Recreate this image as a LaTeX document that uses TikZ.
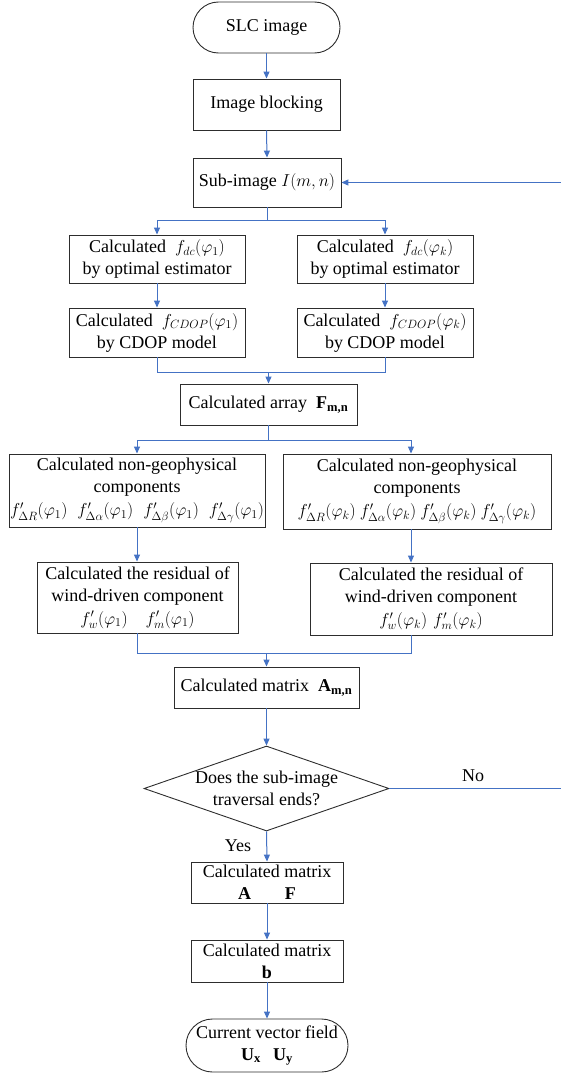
\documentclass[tikz,border=0pt]{standalone}
\usepackage{fontspec}
\setmainfont{Liberation Serif}
\usetikzlibrary{arrows.meta,shapes.geometric}
\definecolor{lineblue}{RGB}{68,114,196}
\definecolor{boxgray}{RGB}{45,45,45}
\newcommand{\bsub}[2]{\textbf{#1}\textsubscript{\textbf{#2}}}
\begin{document}
\begin{tikzpicture}[x=1pt,y=-1pt,
  every node/.style={font=\fontsize{18}{22}\selectfont},
  box/.style={draw=boxgray, line width=0.9pt, inner sep=0pt, align=center},
  term/.style={box, rounded corners=25.5pt},
  dia/.style={draw=boxgray, line width=0.9pt, diamond, inner sep=0pt},
  flow/.style={draw=lineblue, line width=1pt, -{Triangle[width=6pt,length=7pt]}},
  link/.style={draw=lineblue, line width=1pt}]
\useasboundingbox (0,0) rectangle (561,1076);

% nodes
\node[term, minimum width=147pt, minimum height=51pt] (slc) at (266.5,27.5) {SLC image};
\node[box, minimum width=147pt, minimum height=51pt] (blk) at (266.5,104.5) {Image blocking};
\node[box, minimum width=148pt, minimum height=49pt] (sub) at (267,182.5) {Sub-image $I\bigl(m,n\bigr)$};

\node[box, minimum width=176pt, minimum height=48pt] (dc1) at (157,259) {Calculated \ $f_{dc}\bigl(\varphi_1\bigr)$\\by optimal estimator};
\node[box, minimum width=176pt, minimum height=48pt] (dc2) at (385,259) {Calculated \ $f_{dc}\bigl(\varphi_k\bigr)$\\by optimal estimator};
\node[box, minimum width=176pt, minimum height=49pt] (cd1) at (157,332.5) {Calculated \ $f_{CDOP}\bigl(\varphi_1\bigr)$\\by CDOP model};
\node[box, minimum width=176pt, minimum height=49pt] (cd2) at (385,332.5) {Calculated \ $f_{CDOP}\bigl(\varphi_k\bigr)$\\by CDOP model};

\node[box, minimum width=177pt, minimum height=41pt] (fmn) at (268.5,404.5) {Calculated array \ \bsub{F}{m,n}};

\node[box, minimum width=256pt, minimum height=73pt] (ng1) at (137,490.5) {Calculated non-geophysical\\components\\[1pt]
  $f'_{\Delta R}\bigl(\varphi_1\bigr)$\hspace{10pt}$f'_{\Delta\alpha}\bigl(\varphi_1\bigr)$\hspace{10pt}$f'_{\Delta\beta}\bigl(\varphi_1\bigr)$\hspace{10pt}$f'_{\Delta\gamma}\bigl(\varphi_1\bigr)$};
\node[box, minimum width=268pt, minimum height=75pt] (ng2) at (417,491.5) {Calculated non-geophysical\\components\\[1pt]
  $f'_{\Delta R}\bigl(\varphi_k\bigr)$\hspace{4pt}$f'_{\Delta\alpha}\bigl(\varphi_k\bigr)$\hspace{4pt}$f'_{\Delta\beta}\bigl(\varphi_k\bigr)$\hspace{4pt}$f'_{\Delta\gamma}\bigl(\varphi_k\bigr)$};

\node[box, minimum width=201pt, minimum height=71pt] (rs1) at (137.5,597.5) {Calculated the residual of\\wind-driven component\\[1pt]
  $f'_{w}\bigl(\varphi_1\bigr)$\hspace{18pt}$f'_{m}\bigl(\varphi_1\bigr)$};
\node[box, minimum width=242pt, minimum height=72pt] (rs2) at (431,599) {Calculated the residual of\\wind-driven component\\[1pt]
  $f'_{w}\bigl(\varphi_k\bigr)$\hspace{6pt}$f'_{m}\bigl(\varphi_k\bigr)$};

\node[box, minimum width=185pt, minimum height=41pt] (amn) at (266.5,687.5) {Calculated matrix \ \bsub{A}{m,n}};

\node[dia, minimum width=245pt, minimum height=85pt] (dec) at (266.5,788.5) {};
\node[align=center, inner sep=0pt] (dect) at (dec.center) {Does the sub-image\\traversal ends?};

\node[box, minimum width=152pt, minimum height=41pt] (af) at (267,882.5) {Calculated matrix\\\textbf{A}\hspace{34pt}\textbf{F}};
\node[box, minimum width=152pt, minimum height=42pt] (bb) at (267,961) {Calculated matrix\\\textbf{b}};
\node[box, rounded corners=26.5pt, minimum width=162pt, minimum height=53pt] (fin) at (267,1045.5) {Current vector field\\\bsub{U}{x}\hspace{12pt}\bsub{U}{y}};

\node (yes) at (238,846) {Yes};
\node (no) at (473,776) {No};

% helper coordinates
\coordinate (m1) at (0,220);
\coordinate (m2) at (0,372);
\coordinate (m3) at (0,440);
\coordinate (m4) at (0,653);
\coordinate (xL) at (137,0);
\coordinate (xR) at (411,0);
\coordinate (rt) at (562,0);

% connectors
\draw[flow] (slc.south) -- (blk.north);
\draw[flow] (blk.south) -- (sub.north);
\draw[flow] (sub.south) -- (sub.south |- m1) -| (dc1.north);
\draw[flow] (sub.south |- m1) -| (dc2.north);
\draw[flow] (dc1.south) -- (cd1.north);
\draw[flow] (dc2.south) -- (cd2.north);
\draw[link] (cd1.south) -- (cd1.south |- m2) -| (cd2.south);
\draw[flow] (fmn.north |- m2) -- (fmn.north);
\draw[flow] (fmn.south) -- (fmn.south |- m3) -| (xL |- ng1.north);
\draw[flow] (fmn.south |- m3) -| (xR |- ng2.north);
\draw[flow] (xL |- ng1.south) -- (xL |- rs1.north);
\draw[flow] (xR |- ng2.south) -- (xR |- rs2.north);
\draw[link] (xL |- rs1.south) -- (xL |- m4) -| (xR |- rs2.south);
\draw[flow] (amn.north |- m4) -- (amn.north);
\draw[flow] (amn.south) -- (dec.north);
\draw[flow] (dec.south) -- (af.north);
\draw[flow] (af.south) -- (bb.north);
\draw[flow] (bb.south) -- (fin.north);
\draw[flow] (dec.east) -- (dec.east -| rt) -- (rt |- sub.east) -- (sub.east);
\end{tikzpicture}
\end{document}
